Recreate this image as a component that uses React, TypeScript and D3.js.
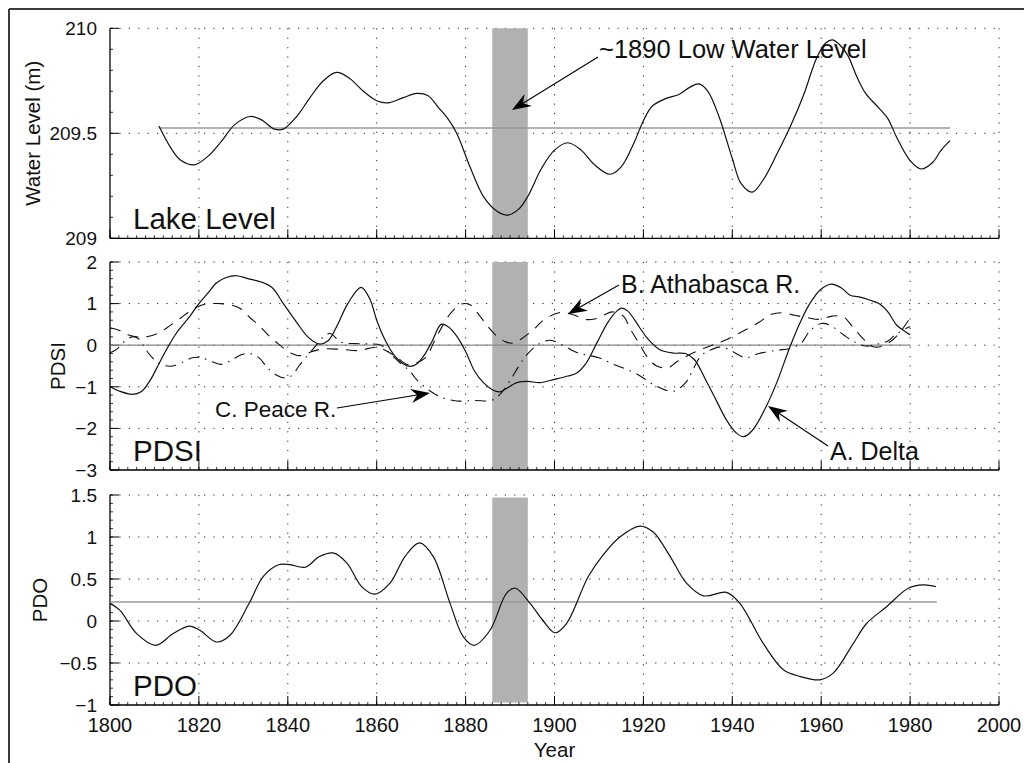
import React from 'react';
import * as d3 from 'd3';

// ---------------- data ----------------
const xTicks = [1800, 1820, 1840, 1860, 1880, 1900, 1920, 1940, 1960, 1980, 2000];
const lakeTicks = [209, 209.5, 210];
const pdsiTicks = [-3, -2, -1, 0, 1, 2];
const pdoTicks = [-1, -0.5, 0, 0.5, 1, 1.5];

const lowWaterBand = [1886, 1894];
const lakeMean = 209.525;
const lakeMeanSpan = [1811, 1989];
const pdsiZeroSpan = [1800, 1980];
const pdoMean = 0.225;
const pdoMeanSpan = [1800, 1986];

const lakeYears = [1811, 1814, 1816, 1819, 1822, 1825, 1828, 1831.5, 1834, 1837, 1839, 1842, 1845, 1848, 1851, 1854, 1857, 1860, 1862.5, 1866, 1869, 1871.5, 1874, 1876, 1878, 1881, 1884, 1887, 1889.5, 1892, 1894, 1897, 1900, 1903, 1906, 1909, 1912.5, 1915, 1918, 1920, 1922, 1925, 1928, 1930.5, 1932.5, 1934.5, 1937, 1940, 1942, 1944.5, 1947, 1950, 1953, 1956, 1959, 1961, 1962.5, 1964, 1966, 1968, 1970, 1973, 1975, 1977, 1980, 1982.5, 1985, 1987, 1989];
const lakeLevel = [209.535, 209.42, 209.37, 209.35, 209.39, 209.46, 209.54, 209.58, 209.565, 209.52, 209.52, 209.58, 209.67, 209.75, 209.79, 209.76, 209.70, 209.655, 209.645, 209.67, 209.69, 209.68, 209.62, 209.57, 209.50, 209.34, 209.20, 209.13, 209.11, 209.14, 209.20, 209.33, 209.42, 209.455, 209.42, 209.35, 209.305, 209.34, 209.46, 209.56, 209.63, 209.665, 209.685, 209.72, 209.735, 209.70, 209.58, 209.38, 209.26, 209.22, 209.28, 209.40, 209.53, 209.68, 209.86, 209.93, 209.945, 209.925, 209.87, 209.77, 209.69, 209.62, 209.57, 209.48, 209.37, 209.33, 209.36, 209.42, 209.465];

const deltaYears = [1800, 1802, 1805, 1807, 1809, 1811, 1813, 1815, 1818, 1820, 1822, 1824, 1826, 1828.5, 1831, 1834, 1836.5, 1839, 1842, 1844.5, 1847, 1849, 1851, 1853.5, 1856.5, 1858.5, 1860, 1862, 1864, 1866, 1867.5, 1869, 1870.5, 1872.5, 1874.5, 1876, 1878, 1880, 1882, 1884, 1886, 1887.7, 1889.5, 1891.5, 1894, 1896.7, 1900, 1903, 1905, 1907, 1909.5, 1912, 1914, 1915.1, 1916.5, 1919, 1921, 1923.7, 1926.7, 1929.5, 1931.5, 1934, 1936.5, 1938.7, 1941, 1942.5, 1944.5, 1947.5, 1950, 1953, 1955.5, 1957.5, 1960, 1962.3, 1964.5, 1966.5, 1968.5, 1971, 1973, 1975, 1977, 1979, 1980];
const deltaPdsi = [-1.0, -1.1, -1.18, -1.12, -0.85, -0.45, -0.05, 0.3, 0.7, 1.0, 1.25, 1.5, 1.62, 1.67, 1.6, 1.52, 1.38, 1.0, 0.55, 0.2, 0.03, 0.1, 0.45, 1.0, 1.39, 1.1, 0.6, 0.1, -0.25, -0.45, -0.51, -0.45, -0.27, 0.1, 0.5, 0.45, 0.22, -0.15, -0.62, -0.9, -1.07, -1.12, -1.02, -0.9, -0.87, -0.9, -0.82, -0.74, -0.67, -0.45, 0.05, 0.55, 0.82, 0.89, 0.82, 0.45, 0.15, -0.11, -0.19, -0.2, -0.35, -0.83, -1.35, -1.8, -2.12, -2.2, -2.05, -1.5, -0.9, -0.03, 0.6, 1.01, 1.35, 1.47, 1.38, 1.2, 1.16, 1.08, 1.0, 0.8, 0.48, 0.32, 0.25];

const athaYears = [1800, 1802, 1804, 1806, 1808.5, 1811, 1813.5, 1816, 1818, 1820.5, 1823, 1825, 1827.5, 1829.5, 1831.5, 1833.5, 1836, 1838, 1840.5, 1843, 1845.5, 1848, 1852, 1856, 1860, 1864, 1867, 1869, 1871, 1873, 1875, 1876.5, 1879, 1881, 1883, 1885, 1887, 1889, 1890.5, 1892.5, 1895, 1897.5, 1901, 1904, 1907, 1909, 1911, 1913, 1915.5, 1917, 1919, 1921, 1923, 1925.5, 1927.5, 1930, 1933, 1936, 1939, 1943, 1946, 1948.5, 1951, 1954, 1957, 1959.5, 1962.5, 1965, 1967, 1969.5, 1971.5, 1973.5, 1976, 1978, 1980];
const athaPdsi = [0.42, 0.36, 0.25, 0.2, 0.21, 0.3, 0.47, 0.66, 0.82, 0.96, 1.0, 1.0, 0.96, 0.87, 0.66, 0.48, 0.2, 0.02, -0.18, -0.25, -0.15, -0.09, -0.1, -0.13, -0.05, -0.25, -0.47, -0.42, -0.3, 0.1, 0.5, 0.75, 0.99, 0.97, 0.73, 0.45, 0.22, 0.08, 0.05, 0.15, 0.35, 0.6, 0.78, 0.74, 0.62, 0.63, 0.72, 0.8, 0.7, 0.4, 0.05, -0.3, -0.5, -0.54, -0.4, -0.25, -0.1, 0.02, 0.15, 0.37, 0.55, 0.73, 0.78, 0.72, 0.66, 0.62, 0.7, 0.68, 0.45, 0.15, -0.03, -0.03, 0.12, 0.35, 0.66];

const peaceYears = [1800, 1801.5, 1803, 1805, 1806.5, 1808, 1810, 1812, 1814, 1816.5, 1818.5, 1820.5, 1823, 1825, 1827, 1829.5, 1831.5, 1833.5, 1835.5, 1837.5, 1839.5, 1841, 1842.5, 1844, 1846, 1848, 1849.5, 1852, 1855, 1858, 1861, 1863, 1865, 1867.5, 1869, 1872, 1875, 1878, 1882, 1886, 1888, 1890, 1892, 1894, 1896.5, 1899, 1901.5, 1904.5, 1907, 1910, 1913, 1916, 1919, 1922, 1925, 1927, 1929.5, 1931, 1933, 1935, 1937.5, 1940, 1943, 1946, 1950, 1953, 1955.5, 1957.5, 1960, 1962, 1965, 1967.5, 1970, 1972.5, 1975, 1977, 1980];
const peacePdsi = [-0.18, -0.1, 0.07, 0.2, 0.15, -0.1, -0.35, -0.48, -0.5, -0.4, -0.3, -0.3, -0.4, -0.46, -0.38, -0.23, -0.2, -0.3, -0.55, -0.72, -0.79, -0.72, -0.5, -0.3, -0.05, 0.2, 0.28, 0.07, 0.04, 0.03, 0.0, -0.2, -0.4, -0.63, -0.83, -1.1, -1.27, -1.34, -1.33, -1.32, -1.15, -0.85, -0.5, -0.2, 0.03, 0.12, 0.02, -0.15, -0.23, -0.3, -0.45, -0.57, -0.72, -0.93, -1.08, -1.1, -0.9, -0.62, -0.25, -0.12, -0.04, -0.15, -0.3, -0.2, -0.12, -0.08, 0.05, 0.35, 0.52, 0.48, 0.25, 0.08, -0.02, 0.02, 0.1, 0.28, 0.45];

const pdoYears = [1800, 1802.2, 1806, 1810.3, 1814.2, 1817.8, 1820.2, 1824, 1827, 1831.1, 1834.5, 1837.9, 1840.5, 1843.9, 1847.2, 1850.2, 1853.3, 1856.6, 1859.6, 1863, 1866.4, 1869.6, 1872.7, 1876.5, 1879.5, 1881.9, 1885.5, 1889.2, 1891.2, 1894.5, 1897.5, 1900.1, 1902.7, 1907.6, 1911, 1914.7, 1919.2, 1922.2, 1926, 1929.7, 1933.5, 1938.7, 1941.7, 1947, 1951.5, 1955.2, 1959.7, 1962.7, 1967.2, 1970.2, 1974.7, 1979.6, 1983, 1985.8];
const pdoValues = [0.21, 0.13, -0.15, -0.29, -0.15, -0.06, -0.11, -0.25, -0.17, 0.19, 0.53, 0.67, 0.67, 0.64, 0.77, 0.81, 0.69, 0.41, 0.32, 0.45, 0.77, 0.93, 0.77, 0.21, -0.19, -0.29, -0.11, 0.33, 0.39, 0.21, 0.0, -0.14, -0.03, 0.53, 0.79, 1.0, 1.13, 1.06, 0.77, 0.45, 0.3, 0.34, 0.21, -0.27, -0.58, -0.66, -0.70, -0.62, -0.27, -0.03, 0.17, 0.39, 0.43, 0.41];

// ---------------- layout ----------------
const W = 1024;
const H = 763;
const X0 = 110;
const X1 = 999;
const FONT = "'Liberation Sans', Arial, Helvetica, sans-serif";

const fmt = (v: number) => {
  const s = String(Math.round(v * 100) / 100);
  return s.replace('-', '\u2212');
};

type Panel = {
  top: number;
  bottom: number;
  domain: [number, number];
  ticks: number[];
  minor: number;
  label: string;
  labelX: number;
  title: string;
  band: [number, number];
};

const panels: Panel[] = [
  { top: 28.3, bottom: 238.3, domain: [209, 210], ticks: lakeTicks, minor: 0.1, label: 'Water Level (m)', labelX: 40, title: 'Lake Level', band: [209, 210] },
  { top: 262, bottom: 470, domain: [-3, 2], ticks: pdsiTicks, minor: 0.2, label: 'PDSI', labelX: 65, title: 'PDSI', band: [-3, 2] },
  { top: 495, bottom: 705, domain: [-1, 1.5], ticks: pdoTicks, minor: 0.1, label: 'PDO', labelX: 47, title: 'PDO', band: [-0.97, 1.47] },
];

function Arrow({ x1, y1, x2, y2 }: { x1: number; y1: number; x2: number; y2: number }) {
  const dx = x2 - x1;
  const dy = y2 - y1;
  const len = Math.sqrt(dx * dx + dy * dy);
  const ux = dx / len;
  const uy = dy / len;
  const px = -uy;
  const py = ux;
  const L = 19;
  const hw = 7;
  const notch = 13;
  const bx = x2 - ux * L;
  const by = y2 - uy * L;
  const nx = x2 - ux * notch;
  const ny = y2 - uy * notch;
  const pts = [
    [x2, y2],
    [bx + px * hw, by + py * hw],
    [nx, ny],
    [bx - px * hw, by - py * hw],
  ];
  return (
    <g>
      <line x1={x1} y1={y1} x2={nx} y2={ny} stroke="#000" strokeWidth={1.1} />
      <polygon points={pts.map((p) => p.join(',')).join(' ')} fill="#000" />
    </g>
  );
}

export default function App() {
  const x = d3.scaleLinear().domain([1800, 2000]).range([X0, X1]);
  const ys = panels.map((p) => d3.scaleLinear().domain(p.domain).range([p.bottom, p.top]));

  const mkLine = (y: d3.ScaleLinear<number, number>) =>
    d3
      .line<[number, number]>()
      .x((d) => x(d[0]))
      .y((d) => y(d[1]))
      .curve(d3.curveCatmullRom.alpha(0.5));

  const zip = (a: number[], b: number[]) => a.map((v, i) => [v, b[i]] as [number, number]);

  const lakePath = mkLine(ys[0])(zip(lakeYears, lakeLevel)) || '';
  const deltaPath = mkLine(ys[1])(zip(deltaYears, deltaPdsi)) || '';
  const athaPath = mkLine(ys[1])(zip(athaYears, athaPdsi)) || '';
  const peacePath = mkLine(ys[1])(zip(peaceYears, peacePdsi)) || '';
  const pdoPath = mkLine(ys[2])(zip(pdoYears, pdoValues)) || '';

  const minorX = d3.range(1800, 2001, 2);

  return (
    <svg
      width={W}
      height={H}
      style={{ position: 'absolute', left: 0, top: 0, background: '#fff' }}
      fontFamily={FONT}
    >
      <rect x={0} y={0} width={W} height={H} fill="#fff" />
      {/* outer frame */}
      <line x1={9} y1={9} x2={W} y2={9} stroke="#3a3a3a" strokeWidth={2} />
      <line x1={9} y1={9} x2={9} y2={H} stroke="#3a3a3a" strokeWidth={2} />

      {panels.map((p, i) => {
        const y = ys[i];
        const minorY = d3.range(p.domain[0], p.domain[1] + 1e-9, p.minor);
        return (
          <g key={i}>
            {/* grid */}
            {xTicks.slice(1).map((t) => (
              <line key={'gx' + t} x1={x(t)} x2={x(t)} y1={p.top} y2={p.bottom} stroke="#222" strokeWidth={1} strokeDasharray="1.2,8.2" />
            ))}
            {p.ticks.slice(1).map((t) => (
              <line key={'gy' + t} x1={X0} x2={X1} y1={y(t)} y2={y(t)} stroke="#222" strokeWidth={1} strokeDasharray="1.2,8.2" />
            ))}
            {/* shaded low water band */}
            <rect
              x={x(lowWaterBand[0])}
              width={x(lowWaterBand[1]) - x(lowWaterBand[0])}
              y={y(p.band[1])}
              height={y(p.band[0]) - y(p.band[1])}
              fill="#b1b1b4"
            />
            {/* axes */}
            <line x1={X0} x2={X1} y1={p.bottom} y2={p.bottom} stroke="#000" strokeWidth={1.3} />
            <line x1={X0} x2={X0} y1={p.top} y2={p.bottom} stroke="#000" strokeWidth={1.3} />
            {xTicks.map((t) => (
              <line key={'tx' + t} x1={x(t)} x2={x(t)} y1={p.bottom} y2={p.bottom - 9} stroke="#000" strokeWidth={1} />
            ))}
            {minorX.map((t) => (
              <line key={'mx' + t} x1={x(t)} x2={x(t)} y1={p.bottom} y2={p.bottom - 3} stroke="#000" strokeWidth={0.8} />
            ))}
            {p.ticks.map((t) => (
              <line key={'ty' + t} x1={X0} x2={X0 + 9} y1={y(t)} y2={y(t)} stroke="#000" strokeWidth={1} />
            ))}
            {minorY.map((t, k) => (
              <line key={'my' + k} x1={X0} x2={X0 + 3} y1={y(t)} y2={y(t)} stroke="#000" strokeWidth={0.8} />
            ))}
            {/* tick labels */}
            {p.ticks.map((t) => (
              <text key={'ly' + t} x={97} y={y(t)} dy="0.36em" textAnchor="end" fontSize={19} fill="#111">
                {fmt(t)}
              </text>
            ))}
            {/* y label */}
            <text
              transform={`translate(${p.labelX},${(p.top + p.bottom) / 2}) rotate(-90)`}
              textAnchor="middle"
              fontSize={20.5}
              fill="#111"
            >
              {p.label}
            </text>
            {/* panel title */}
            <text x={133} y={p.bottom - 9} fontSize={29.5} fill="#111">
              {p.title}
            </text>
          </g>
        );
      })}

      {/* reference lines */}
      <line x1={x(lakeMeanSpan[0])} x2={x(lakeMeanSpan[1])} y1={ys[0](lakeMean)} y2={ys[0](lakeMean)} stroke="#9a9a9a" strokeWidth={1.5} />
      <line x1={x(pdsiZeroSpan[0])} x2={x(pdsiZeroSpan[1])} y1={ys[1](0)} y2={ys[1](0)} stroke="#8a8a8a" strokeWidth={1.2} />
      <line x1={x(pdoMeanSpan[0])} x2={x(pdoMeanSpan[1])} y1={ys[2](pdoMean)} y2={ys[2](pdoMean)} stroke="#9a9a9a" strokeWidth={1.5} />

      {/* data */}
      <path d={lakePath} fill="none" stroke="#111" strokeWidth={1.2} />
      <path d={athaPath} fill="none" stroke="#111" strokeWidth={1.1} strokeDasharray="11,8" />
      <path d={peacePath} fill="none" stroke="#111" strokeWidth={1.1} strokeDasharray="11,6,1.5,6" />
      <path d={deltaPath} fill="none" stroke="#111" strokeWidth={1.2} />
      <path d={pdoPath} fill="none" stroke="#111" strokeWidth={1.2} />

      {/* x tick labels */}
      {xTicks.map((t) => (
        <text key={'lx' + t} x={x(t)} y={731.5} textAnchor="middle" fontSize={20} fill="#111">
          {t}
        </text>
      ))}
      <text x={x(1900)} y={756.5} textAnchor="middle" fontSize={20.5} fill="#111">
        Year
      </text>

      {/* annotations */}
      <text x={599} y={58} fontSize={25.5} fill="#111">~1890 Low Water Level</text>
      <Arrow x1={598} y1={57} x2={512} y2={110} />

      <text x={621} y={292.5} fontSize={25} fill="#111">B. Athabasca R.</text>
      <Arrow x1={619} y1={285} x2={568} y2={314} />

      <text x={215} y={416.5} fontSize={22.5} fill="#111">C. Peace R.</text>
      <Arrow x1={337} y1={408} x2={430} y2={393} />

      <text x={830} y={460} fontSize={25} fill="#111">A. Delta</text>
      <Arrow x1={828} y1={446} x2={768} y2={406} />
    </svg>
  );
}
